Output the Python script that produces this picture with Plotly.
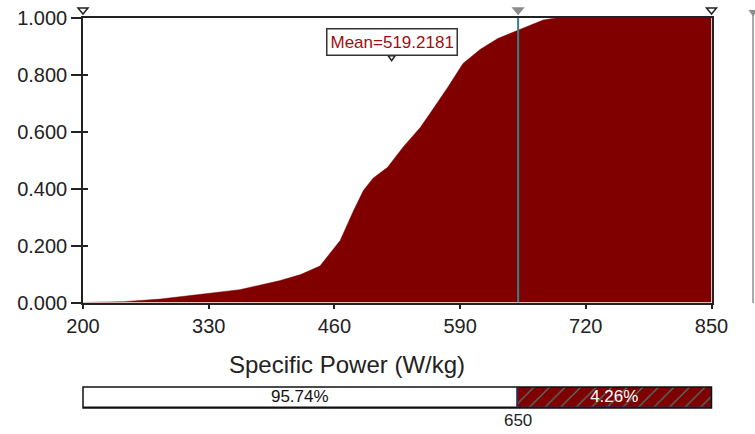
import plotly.graph_objects as go

# ---- data ----
power_x = [200, 242, 280, 321, 362, 404, 425, 445, 459, 466, 480, 490, 500, 515,
           531, 549, 559, 566, 577, 593, 611, 629, 649, 663, 676, 689, 850]
cdf_y = [0.0, 0.003, 0.012, 0.028, 0.045, 0.077, 0.098, 0.128, 0.19, 0.218, 0.324,
         0.394, 0.437, 0.475, 0.546, 0.616, 0.665, 0.70, 0.755, 0.84, 0.89, 0.928,
         0.955, 0.975, 0.993, 1.0, 1.0]
x_ticks = [200, 330, 460, 590, 720, 850]
y_ticks = [0.0, 0.2, 0.4, 0.6, 0.8, 1.0]
mean_value = 519.2181
threshold = 650
x_min, x_max = 200, 850
below_label, above_label = "95.74%", "4.26%"

DARK_RED = "#800000"
TEAL = "#3c7f85"
FONT = "Liberation Sans, Arial, sans-serif"

W, H = 755, 434
xdom = [83 / W, 711.5 / W]
ydom = [(H - 302.5) / H, (H - 18) / H]
bar_dom = [(H - 408) / H, (H - 387) / H]


def px(xval):
    """data x -> paper x for the main axis domain"""
    return xdom[0] + (xval - x_min) / (x_max - x_min) * (xdom[1] - xdom[0])


def py(yval):
    return ydom[0] + yval * (ydom[1] - ydom[0])


def tri(xval, yval, color, filled, w=5, h=6, up=4):
    """Small downward triangle hanging on (xval, yval), sized in pixels."""
    return dict(type="path", xref="paper", yref="paper", xsizemode="pixel",
                ysizemode="pixel", xanchor=px(xval), yanchor=py(yval),
                path=f"M {-w} {up + h} L {w} {up + h} L 0 {up} Z",
                fillcolor=color if filled else "white",
                line=dict(color=color, width=1.5), layer="above")


fig = go.Figure()

# CDF area
fig.add_trace(go.Scatter(
    x=power_x, y=cdf_y, mode="lines", fill="tozeroy",
    fillcolor=DARK_RED, line=dict(color=DARK_RED, width=0.5),
    hoverinfo="skip", showlegend=False))

# dummy trace for inside-tick overlay axis
fig.add_trace(go.Scatter(x=[None], y=[None], yaxis="y3", showlegend=False,
                         hoverinfo="skip"))

# bottom split bar: below threshold (white)
fig.add_trace(go.Bar(
    y=[0], x=[threshold - x_min], base=[x_min], orientation="h",
    xaxis="x2", yaxis="y2", width=1, cliponaxis=False,
    text=[below_label], textposition="inside", insidetextanchor="middle",
    textangle=0, constraintext="none",
    textfont=dict(family=FONT, size=17, color="#111"),
    marker=dict(color="white", line=dict(color="#111", width=1.5)),
    hoverinfo="skip", showlegend=False))
# above threshold (hatched dark red)
fig.add_trace(go.Bar(
    y=[0], x=[x_max - threshold], base=[threshold], orientation="h",
    xaxis="x2", yaxis="y2", width=1, cliponaxis=False,
    text=[above_label], textposition="inside", insidetextanchor="middle",
    textangle=0, constraintext="none",
    textfont=dict(family=FONT, size=17, color="white"),
    marker=dict(color=DARK_RED, line=dict(color="#2a2a60", width=1.5),
                pattern=dict(shape="/", fgcolor="#3f8f8f", bgcolor=DARK_RED,
                             size=11, solidity=0.1, fillmode="replace")),
    hoverinfo="skip", showlegend=False))

fig.update_layout(
    width=W, height=H, autosize=False,
    margin=dict(l=0, r=0, t=0, b=0),
    paper_bgcolor="white", plot_bgcolor="white",
    font=dict(family=FONT, size=18, color="#222"),
    barmode="overlay", bargap=0,
    xaxis=dict(domain=xdom, range=[x_min, x_max], tickvals=x_ticks,
               ticks="outside", ticklen=5, tickwidth=1.5, tickcolor="#222",
               showline=True, linecolor="#222", linewidth=1.5, mirror=True,
               showgrid=False, zeroline=False, tickfont=dict(size=20),
               automargin=False),
    yaxis=dict(domain=ydom, range=[0, 1],
               tickvals=y_ticks, tickformat=".3f",
               ticks="outside", ticklen=10, tickwidth=1.5, tickcolor="#222",
               showline=True, linecolor="#222", linewidth=1.5, mirror=True,
               showgrid=False, zeroline=False, tickfont=dict(size=20),
               automargin=False),
    yaxis3=dict(overlaying="y", anchor="x", side="left", range=[0, 1],
                tickvals=y_ticks, ticks="inside", ticklen=5, tickwidth=1.5,
                tickcolor="#222", showticklabels=False, showline=False,
                showgrid=False, zeroline=False, automargin=False),
    xaxis2=dict(domain=xdom, anchor="y2", range=[x_min, x_max],
                tickvals=[threshold], ticktext=[str(threshold)],
                ticks="", showline=False, showgrid=False, zeroline=False,
                tickfont=dict(size=17), automargin=False),
    yaxis2=dict(domain=bar_dom, anchor="x2",
                range=[-0.5, 0.5], showticklabels=False, showgrid=False,
                zeroline=False, showline=False, ticks="", automargin=False),
    shapes=[
        dict(type="line", xref="x", yref="y", x0=threshold, x1=threshold,
             y0=0, y1=1, line=dict(color=TEAL, width=2), layer="above"),
        tri(threshold, 1.0, "#8c8c8c", True),
        tri(x_min, 1.0, "#222", False),
        tri(x_max, 1.0, "#222", False),
        tri(mean_value, 0.857, "#222", False, w=3.5, h=5, up=-2),
        # outline of the split bar
        dict(type="rect", xref="paper", yref="paper",
             x0=xdom[0], x1=xdom[1], y0=bar_dom[0], y1=bar_dom[1],
             line=dict(color="#111", width=1.5), fillcolor="rgba(0,0,0,0)",
             layer="above"),
        dict(type="line", xref="paper", yref="paper", x0=0.9974, x1=0.9974,
             y0=(H - 303) / H, y1=(H - 14) / H,
             line=dict(color="#a8a8a8", width=2)),
        dict(type="path", xref="paper", yref="paper",
             path="M 0.9914 0.977 L 1.0034 0.977 L 0.9974 0.962 Z",
             fillcolor="#8c8c8c", line=dict(width=0)),
    ],
    annotations=[
        dict(x=mean_value, y=0.868, xref="x", yref="y", xanchor="center",
             yanchor="bottom", text="Mean=519.2181", showarrow=False,
             font=dict(family=FONT, size=17, color="#9b1010"),
             bgcolor="white", bordercolor="#333", borderwidth=1.5,
             borderpad=3),
        dict(x=347 / W, y=(H - 364) / H, xref="paper", yref="paper",
             text="Specific Power (W/kg)", showarrow=False,
             font=dict(family=FONT, size=24, color="#222"),
             xanchor="center", yanchor="middle"),
    ],
)

fig.write_html("out.html")
